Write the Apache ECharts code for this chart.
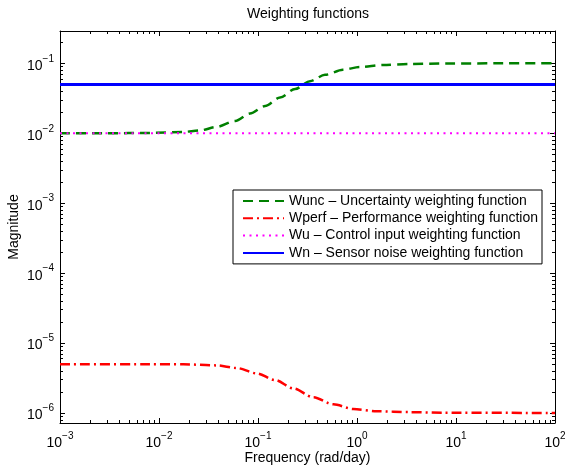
<!DOCTYPE html>
<html>
<head>
<meta charset="utf-8">
<script src="https://cdn.jsdelivr.net/npm/echarts@6/dist/echarts.min.js"></script>
<style>
  html, body { margin: 0; padding: 0; background: #fff; }
  #chart { width: 565px; height: 468px; }
</style>
</head>
<body>
<div id="chart"></div>
<script>
// tick labels (decades)
const xTicks = [1e-3, 1e-2, 1e-1, 1, 10, 100];
const yTicks = [1e-6, 1e-5, 1e-4, 1e-3, 1e-2, 1e-1];

// Wunc - uncertainty weight
const freqUnc = [0.001, 0.003, 0.008, 0.0175, 0.026, 0.038, 0.059, 0.083, 0.118, 0.167, 0.237, 0.335, 0.475, 0.72, 1.07, 1.83, 3.5, 8, 25, 100];
const magUnc = [0.01, 0.01, 0.0101, 0.01045, 0.011, 0.0123, 0.015, 0.0191, 0.0245, 0.0325, 0.043, 0.0555, 0.0685, 0.081, 0.0886, 0.0946, 0.098, 0.0995, 0.1, 0.1];

// Wperf - performance weight
const freqPerf = [0.001, 0.008, 0.0176, 0.038, 0.061, 0.097, 0.149, 0.228, 0.362, 0.577, 0.918, 1.58, 3.43, 7.45, 100];
const magPerf = [5e-6, 5e-6, 4.97e-6, 4.8e-6, 4.4e-6, 3.69e-6, 2.96e-6, 2.25e-6, 1.68e-6, 1.33e-6, 1.14e-6, 1.06e-6, 1.03e-6, 1.01e-6, 1e-6];

// Wu and Wn are flat
const freqFlat = [0.001, 100];
const magWu = [0.01, 0.01];
const magWn = [0.05, 0.05];

const names = [
  'Wunc \u2013 Uncertainty weighting function',
  'Wperf \u2013 Performance weighting function',
  'Wu \u2013 Control input weighting function',
  'Wn \u2013 Sensor noise weighting function'
];

const FONT = '"Liberation Sans", Arial, Helvetica, sans-serif';

function pairs(xs, ys) {
  return xs.map((x, i) => [x, ys[i]]);
}

// minor ticks 2..9 x decade
function minorOf(decades, lo, hi) {
  const out = [];
  decades.forEach(d => {
    for (let k = 2; k <= 9; k++) {
      const v = d * k;
      if (v > lo && v < hi) out.push(v);
    }
  });
  return out;
}

function powLabel(v) {
  const e = Math.round(Math.log10(v));
  return '{b|10}{s|' + (e < 0 ? '\u2212' + (-e) : e) + '}';
}

const xMin = 1e-3, xMax = 100;
const yMin = 7.2e-7, yMax = 0.29;

const labelRich = {
  b: { fontSize: 14, fontFamily: FONT, color: '#000', lineHeight: 19, verticalAlign: 'bottom' },
  s: { fontSize: 10, fontFamily: FONT, color: '#000', lineHeight: 11, verticalAlign: 'top' }
};

function axis(pos, min, max, ticks, len, main) {
  return {
    type: 'log',
    logBase: 10,
    position: pos,
    min: min,
    max: max,
    splitLine: { show: false },
    axisLine: { show: main, lineStyle: { color: '#000', width: 1 } },
    axisTick: { show: true, inside: true, length: len, customValues: ticks, lineStyle: { color: '#000', width: 1 } },
    axisLabel: { show: false }
  };
}

const chart = echarts.init(document.getElementById('chart'));

const xMinor = minorOf([1e-3, 1e-2, 1e-1, 1, 10], xMin, xMax);
const yMinor = minorOf([1e-7, 1e-6, 1e-5, 1e-4, 1e-3, 1e-2, 1e-1], yMin, yMax);

const xMain = axis('bottom', xMin, xMax, xTicks, 5, true);
xMain.axisLabel = {
  show: true, customValues: xTicks, margin: 8,
  formatter: powLabel, rich: labelRich
};
xMain.name = 'Frequency (rad/day)';
xMain.nameLocation = 'middle';
xMain.nameGap = 28;
xMain.nameMoveOverlap = false;
xMain.nameTextStyle = { fontSize: 14, fontFamily: FONT, color: '#000' };

const yMain = axis('left', yMin, yMax, yTicks, 5, true);
yMain.axisLabel = {
  show: true, customValues: yTicks, margin: 6,
  formatter: powLabel, rich: labelRich
};
yMain.name = 'Magnitude';
yMain.nameLocation = 'middle';
yMain.nameGap = 39;
yMain.nameMoveOverlap = false;
yMain.nameTextStyle = { fontSize: 14, fontFamily: FONT, color: '#000' };

const option = {
  animation: false,
  backgroundColor: '#fff',
  title: {
    text: 'Weighting functions',
    left: 308, top: 7, padding: 0,
    textAlign: 'center',
    textStyle: { fontSize: 14, fontWeight: 'normal', fontFamily: FONT, color: '#000' }
  },
  grid: { left: 60, right: 10, top: 31, bottom: 45, containLabel: false, outerBoundsMode: 'none' },
  legend: {
    orient: 'vertical',
    left: 233, top: 190,
    backgroundColor: '#fff',
    borderColor: '#000', borderWidth: 1,
    padding: [4, 4, 4, 9],
    itemWidth: 41, itemHeight: 14, itemGap: 3.3,
    itemStyle: { opacity: 0 },
    textStyle: { fontSize: 14, fontFamily: FONT, color: '#000' },
    data: names
  },
  xAxis: [
    xMain,
    axis('bottom', xMin, xMax, xMinor, 3, false),
    axis('top', xMin, xMax, xTicks, 5, true),
    axis('top', xMin, xMax, xMinor, 3, false)
  ],
  yAxis: [
    yMain,
    axis('left', yMin, yMax, yMinor, 3, false),
    axis('right', yMin, yMax, yTicks, 5, true),
    axis('right', yMin, yMax, yMinor, 3, false)
  ],
  series: [
    {
      name: names[0], type: 'line', showSymbol: false, symbol: 'none',
      smooth: 0.3, smoothMonotone: 'x',
      data: pairs(freqUnc, magUnc),
      lineStyle: { color: '#008000', width: 2.5, type: [10, 6] },
      itemStyle: { color: '#008000' }
    },
    {
      name: names[1], type: 'line', showSymbol: false, symbol: 'none',
      smooth: 0.3, smoothMonotone: 'x',
      data: pairs(freqPerf, magPerf),
      lineStyle: { color: '#ff0000', width: 2.5, type: [10, 4, 2, 4] },
      itemStyle: { color: '#ff0000' }
    },
    {
      name: names[2], type: 'line', showSymbol: false, symbol: 'none',
      data: pairs(freqFlat, magWu),
      lineStyle: { color: '#ff00ff', width: 2, type: [2, 4.5] },
      itemStyle: { color: '#ff00ff' }
    },
    {
      name: names[3], type: 'line', showSymbol: false, symbol: 'none',
      data: pairs(freqFlat, magWn),
      lineStyle: { color: '#0000ff', width: 3, type: 'solid' },
      itemStyle: { color: '#0000ff' }
    }
  ]
};

chart.setOption(option);
</script>
</body>
</html>
